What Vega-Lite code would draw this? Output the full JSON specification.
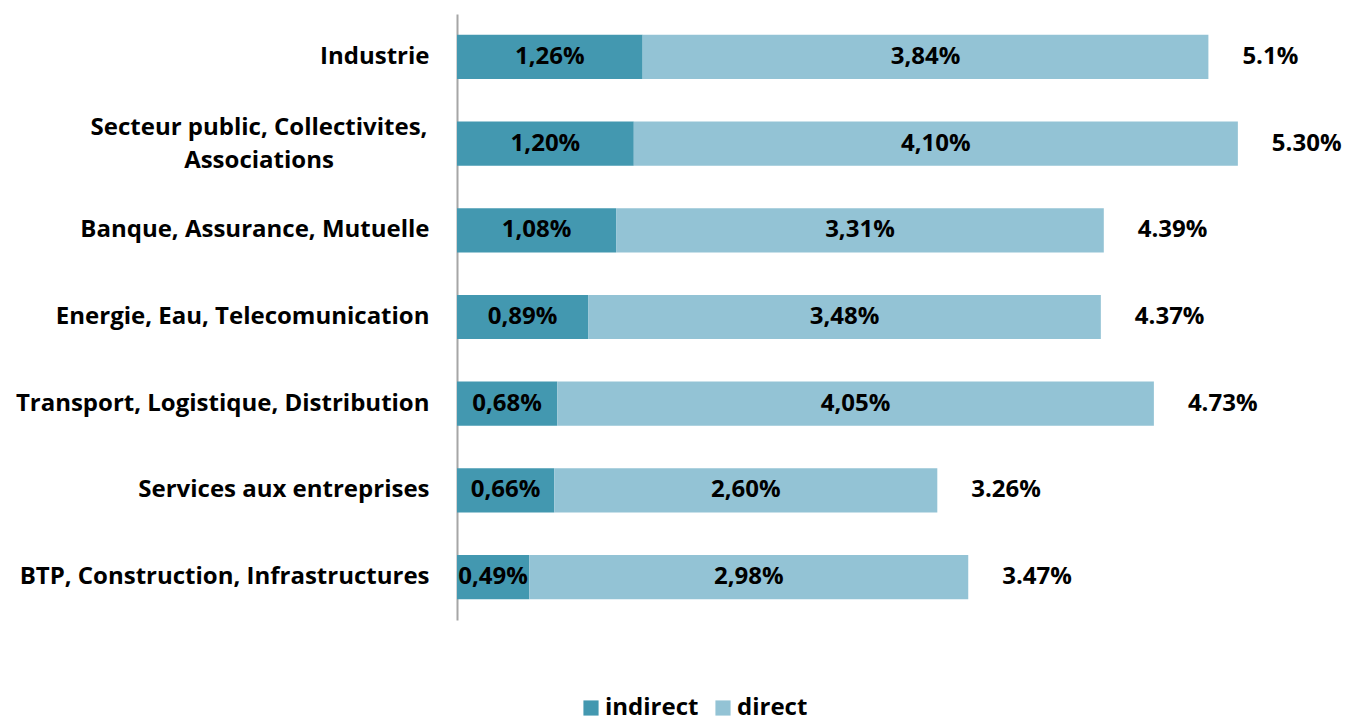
{
  "$schema": "https://vega.github.io/schema/vega-lite/v6.json",
  "autosize": {"type": "none"},
  "padding": {"left": 457, "top": 14, "right": 13, "bottom": 101},
  "width": 884,
  "height": 606,
  "config": {
    "view": {"stroke": null},
    "font": "Open Sans",
    "text": {"font": "Open Sans", "fontWeight": "bold", "fontSize": 24, "color": "#000000"}
  },
  "datasets": {
    "segments": [
      {"sector": "Industrie", "type": "indirect", "value": 1.26, "label": "1,26%"},
      {"sector": "Industrie", "type": "direct", "value": 3.84, "label": "3,84%"},
      {"sector": "Secteur public, Collectivites,|Associations", "type": "indirect", "value": 1.20, "label": "1,20%"},
      {"sector": "Secteur public, Collectivites,|Associations", "type": "direct", "value": 4.10, "label": "4,10%"},
      {"sector": "Banque, Assurance, Mutuelle", "type": "indirect", "value": 1.08, "label": "1,08%"},
      {"sector": "Banque, Assurance, Mutuelle", "type": "direct", "value": 3.31, "label": "3,31%"},
      {"sector": "Energie, Eau, Telecomunication", "type": "indirect", "value": 0.89, "label": "0,89%"},
      {"sector": "Energie, Eau, Telecomunication", "type": "direct", "value": 3.48, "label": "3,48%"},
      {"sector": "Transport, Logistique, Distribution", "type": "indirect", "value": 0.68, "label": "0,68%"},
      {"sector": "Transport, Logistique, Distribution", "type": "direct", "value": 4.05, "label": "4,05%"},
      {"sector": "Services aux entreprises", "type": "indirect", "value": 0.66, "label": "0,66%"},
      {"sector": "Services aux entreprises", "type": "direct", "value": 2.60, "label": "2,60%"},
      {"sector": "BTP, Construction, Infrastructures", "type": "indirect", "value": 0.49, "label": "0,49%"},
      {"sector": "BTP, Construction, Infrastructures", "type": "direct", "value": 2.98, "label": "2,98%"}
    ],
    "totals": [
      {"sector": "Industrie", "total": 5.10, "label": "5.1%"},
      {"sector": "Secteur public, Collectivites,|Associations", "total": 5.30, "label": "5.30%"},
      {"sector": "Banque, Assurance, Mutuelle", "total": 4.39, "label": "4.39%"},
      {"sector": "Energie, Eau, Telecomunication", "total": 4.37, "label": "4.37%"},
      {"sector": "Transport, Logistique, Distribution", "total": 4.73, "label": "4.73%"},
      {"sector": "Services aux entreprises", "total": 3.26, "label": "3.26%"},
      {"sector": "BTP, Construction, Infrastructures", "total": 3.47, "label": "3.47%"}
    ]
  },
  "encoding": {
    "y": {
      "field": "sector",
      "type": "nominal",
      "sort": null,
      "title": null,
      "scale": {"paddingInner": 0.49, "paddingOuter": 0.24},
      "axis": {
        "ticks": false,
        "domainColor": "#a6a6a6",
        "domainWidth": 2,
        "labelFont": "Open Sans",
        "labelFontWeight": "bold",
        "labelFontSize": 24,
        "labelColor": "#000000",
        "labelPadding": 28,
        "labelLimit": 600,
        "labelExpr": "indexof(datum.label, '|') >= 0 ? '' : datum.label"
      }
    }
  },
  "layer": [
    {
      "data": {"name": "segments"},
      "mark": {"type": "bar"},
      "encoding": {
        "x": {"field": "value", "type": "quantitative", "stack": "zero", "scale": {"domain": [0, 6], "nice": false}, "axis": null},
        "color": {
          "field": "type",
          "type": "nominal",
          "scale": {"domain": ["indirect", "direct"], "range": ["#4398b0", "#93c3d5"]},
          "legend": {
            "title": null,
            "orient": "none",
            "direction": "horizontal",
            "legendX": 122,
            "legendY": 682,
            "symbolType": "square",
            "symbolSize": 230,
            "symbolStrokeWidth": 0,
            "labelFont": "Open Sans",
            "labelFontWeight": "bold",
            "labelFontSize": 24,
            "labelColor": "#000000",
            "columnPadding": 12,
            "labelOffset": 2
          }
        },
        "order": {"field": "type", "sort": "descending"}
      }
    },
    {
      "data": {"name": "segments"},
      "mark": {"type": "text", "align": "center", "baseline": "middle"},
      "encoding": {
        "x": {"field": "value", "type": "quantitative", "stack": "zero", "bandPosition": 0.5},
        "order": {"field": "type", "sort": "descending"},
        "detail": {"field": "type"},
        "text": {"field": "label"}
      }
    },
    {
      "data": {"name": "totals"},
      "mark": {"type": "text", "align": "left", "baseline": "middle", "dx": 34},
      "encoding": {
        "x": {"field": "total", "type": "quantitative"},
        "text": {"field": "label"}
      }
    },
    {
      "data": {"name": "totals"},
      "transform": [{"filter": "indexof(datum.sector, '|') >= 0"}],
      "mark": {"type": "text", "align": "center", "baseline": "middle", "lineBreak": "|", "lineHeight": 33, "dx": -198, "dy": -16},
      "encoding": {
        "x": {"datum": 0, "type": "quantitative"},
        "text": {"field": "sector"}
      }
    }
  ]
}
